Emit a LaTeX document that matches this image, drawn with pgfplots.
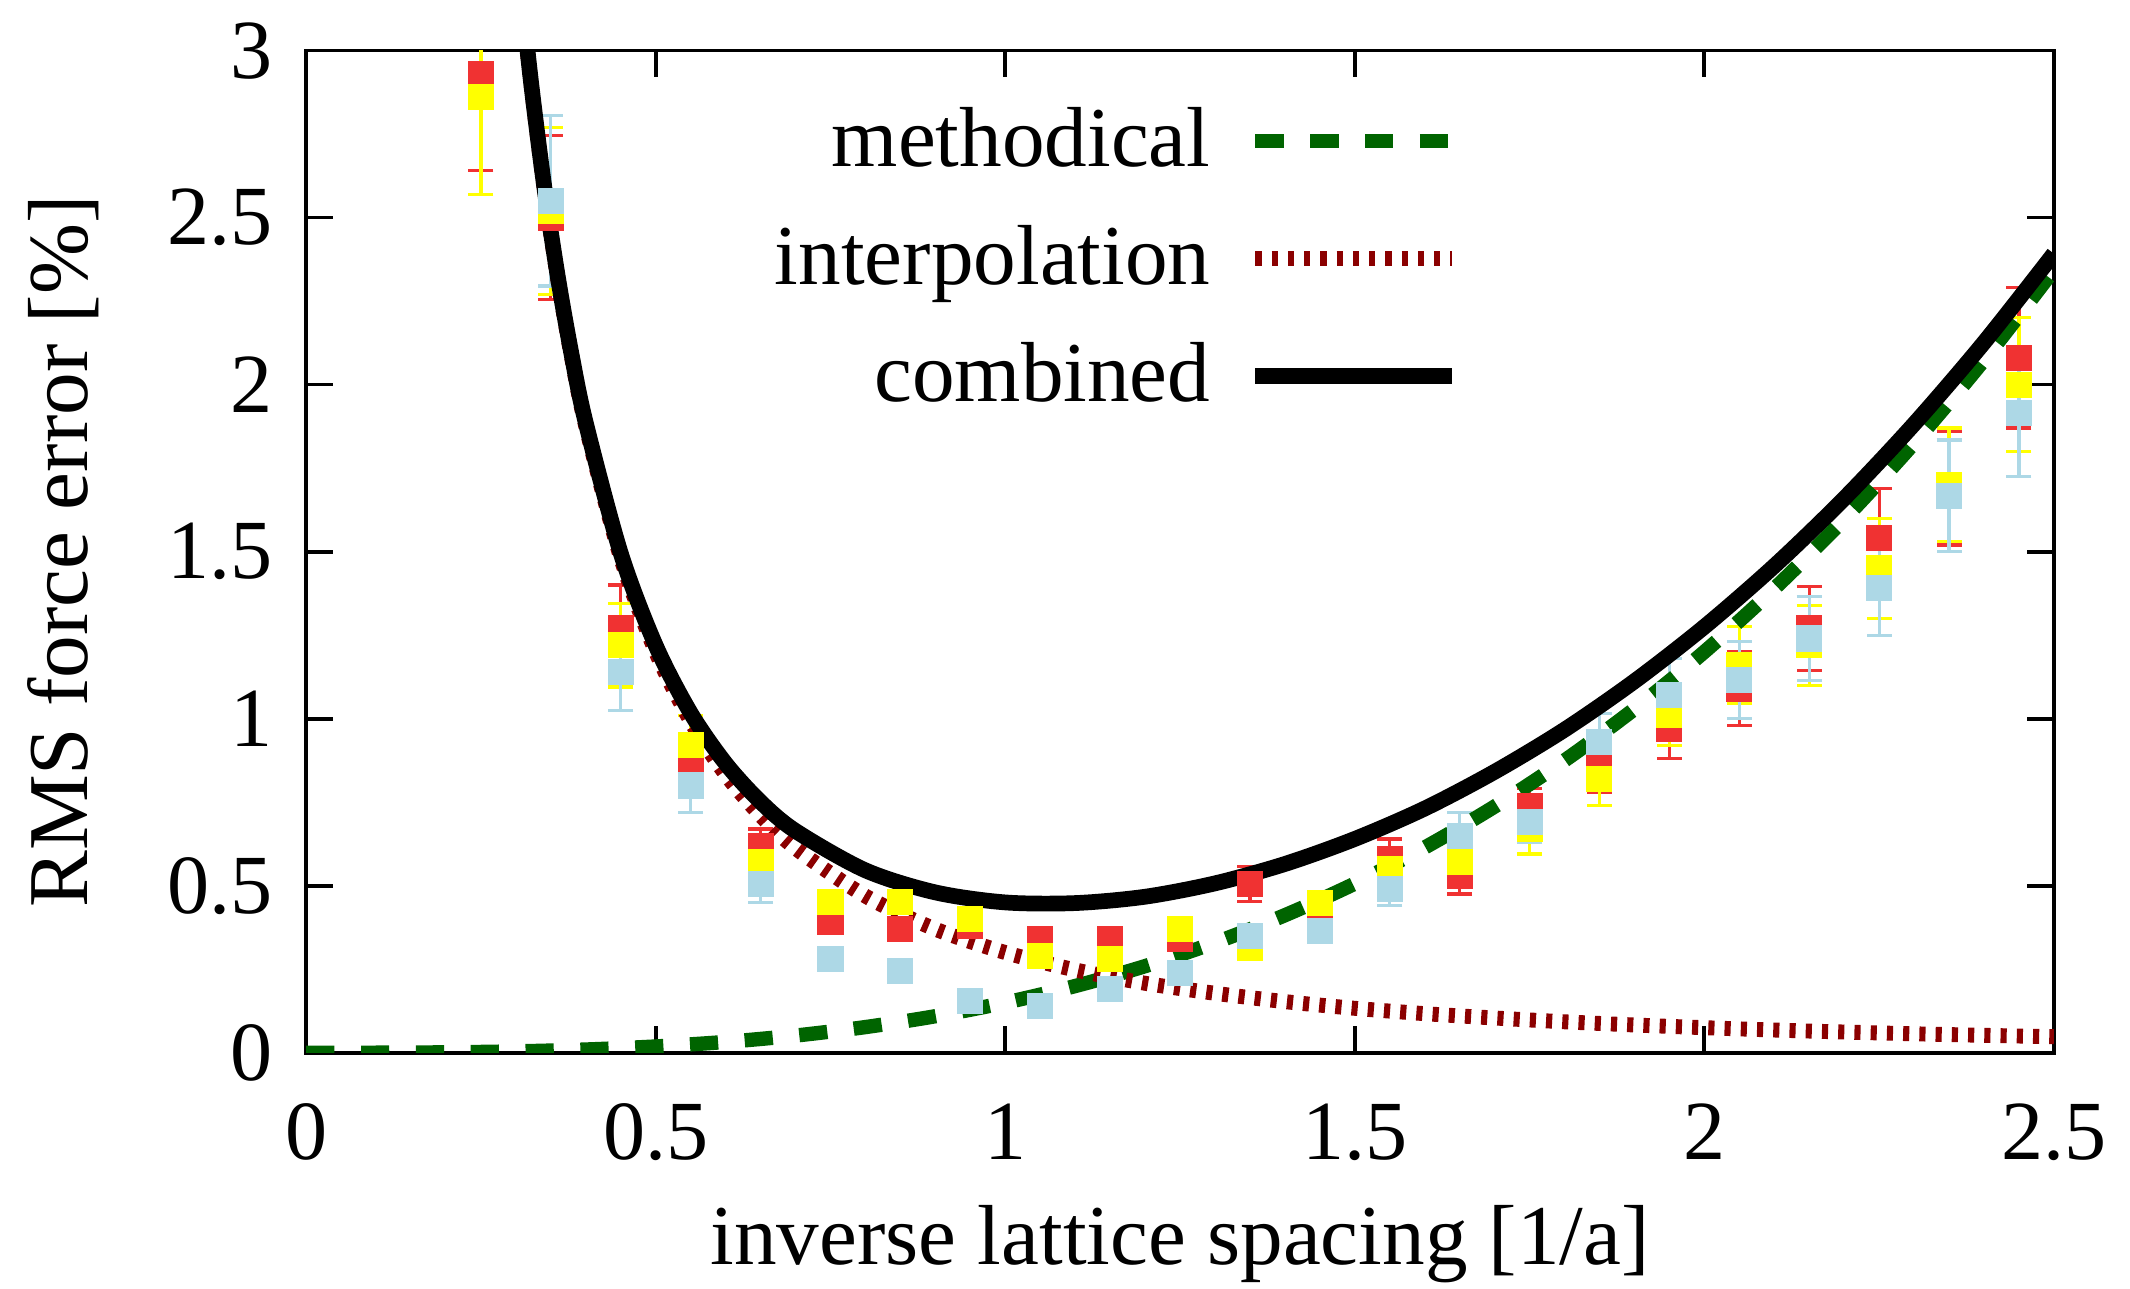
\documentclass[border=0pt]{standalone}
\usepackage{fontspec}
\setmainfont{Liberation Serif}
\usepackage{pgfplots}
\pgfplotsset{compat=1.18}

\definecolor{ptred}{RGB}{240,50,50}
\definecolor{ptyellow}{RGB}{255,255,0}
\definecolor{ptblue}{RGB}{173,216,230}
\definecolor{methgreen}{RGB}{0,100,0}
\definecolor{interpred}{RGB}{139,0,0}

\pgfplotsset{
  errpts/.style={
    color=#1, only marks, mark=square*, mark size=2.35pt, forget plot,
    mark options={draw=#1, fill=#1, line width=0pt},
    error bars/.cd, y dir=both, y explicit,
    error bar style={line width=0.6pt, #1},
    error mark options={rotate=90, mark size=2.35pt, line width=0.6pt, #1},
  },
}
\newcommand{\lblfont}{\fontsize{16}{19}\selectfont}
\newcommand{\tckfont}{\fontsize{15.8}{18}\selectfont}

\begin{document}
\begin{tikzpicture}
\begin{axis}[
  name=ax,
  scale only axis,
  width=328.2pt, height=188.2pt,
  xmin=0, xmax=2.5, ymin=0, ymax=3,
  xtick={0,0.5,1,1.5,2,2.5},
  ytick={0,0.5,1,1.5,2,2.5,3},
  tick align=inside,
  major tick length=5pt,
  axis line style={line width=0.7pt},
  every tick/.style={black, line width=0.7pt},
  /pgf/number format/assume math mode=true,
  ticklabel style={font=\tckfont},
  yticklabel style={xshift=-2.7pt},
  xticklabel style={yshift=-6pt},
  label style={font=\lblfont},
  xlabel={inverse lattice spacing [1/a]},
  ylabel={RMS force error [\%]},
  xlabel style={at={([yshift=-36pt]rel axis cs:0.5,0)}, anchor=center},
  ylabel style={at={([xshift=-45.6pt]rel axis cs:0,0.5)}, anchor=center},
  legend plot pos=right,
  legend cell align=right,
  legend style={draw=none, fill=none, at={(0.661,0.955)}, anchor=north east,
    inner sep=0pt, row sep=5.5pt, font=\lblfont},
  legend image code/.code={\path (0pt,0pt); \draw[#1] (5pt,0pt) -- (42pt,0pt);},
]

% measured data, three runs
\addplot[errpts=ptred] coordinates {
 (0.25,2.93) +- (0,0.29)  (0.35,2.50) +- (0,0.245) (0.45,1.27) +- (0,0.13)
 (0.55,0.87) +- (0,0.04)  (0.65,0.62) +- (0,0.05)  (0.75,0.39) +- (0,0.02)
 (0.85,0.37) +- (0,0.02)  (0.95,0.38) +- (0,0.02)  (1.05,0.34) +- (0,0.02)
 (1.15,0.34) +- (0,0.02)  (1.25,0.34) +- (0,0.02)  (1.35,0.505) +- (0,0.053)
 (1.45,0.41) +- (0,0.03)  (1.55,0.58) +- (0,0.06)  (1.65,0.53) +- (0,0.055)
 (1.75,0.74) +- (0,0.05)  (1.85,0.87) +- (0,0.09)  (1.95,0.97) +- (0,0.09)
 (2.05,1.09) +- (0,0.11)  (2.15,1.27) +- (0,0.125) (2.25,1.54) +- (0,0.15)
 (2.35,1.69) +- (0,0.17)  (2.45,2.08) +- (0,0.21)
};
\addplot[errpts=ptyellow] coordinates {
 (0.25,2.86) +- (0,0.29)  (0.35,2.52) +- (0,0.25)  (0.45,1.22) +- (0,0.125)
 (0.55,0.92) +- (0,0.09)  (0.65,0.57) +- (0,0.05)  (0.75,0.45) +- (0,0.03)
 (0.85,0.45) +- (0,0.03)  (0.95,0.40) +- (0,0.03)  (1.05,0.29) +- (0,0.03)
 (1.15,0.28) +- (0,0.03)  (1.25,0.37) +- (0,0.03)  (1.35,0.315) +- (0,0.03)
 (1.45,0.447) +- (0,0.03) (1.55,0.55) +- (0,0.05)  (1.65,0.57) +- (0,0.05)
 (1.75,0.67) +- (0,0.075) (1.85,0.82) +- (0,0.08)  (1.95,1.01) +- (0,0.09)
 (2.05,1.16) +- (0,0.115) (2.15,1.22) +- (0,0.12)  (2.25,1.45) +- (0,0.15)
 (2.35,1.70) +- (0,0.17)  (2.45,2.00) +- (0,0.20)
};
\addplot[errpts=ptblue] coordinates {
 (0.25,3.35) +- (0,0.30)  (0.35,2.55) +- (0,0.255) (0.45,1.14) +- (0,0.115)
 (0.55,0.80) +- (0,0.08)  (0.65,0.505) +- (0,0.055) (0.75,0.28) +- (0,0.02)
 (0.85,0.245) +- (0,0.02) (0.95,0.155) +- (0,0.02) (1.05,0.14) +- (0,0.02)
 (1.15,0.19) +- (0,0.02)  (1.25,0.24) +- (0,0.02)  (1.35,0.35) +- (0,0.03)
 (1.45,0.365) +- (0,0.03) (1.55,0.49) +- (0,0.05)  (1.65,0.65) +- (0,0.07)
 (1.75,0.69) +- (0,0.06)  (1.85,0.93) +- (0,0.085) (1.95,1.07) +- (0,0.11)
 (2.05,1.115) +- (0,0.115) (2.15,1.24) +- (0,0.125) (2.25,1.39) +- (0,0.14)
 (2.35,1.667) +- (0,0.167) (2.45,1.915) +- (0,0.19)
};

% model curves
\addplot[methgreen, line width=2.7pt, dash pattern=on 5.3pt off 5pt, smooth] coordinates {
 (0,0) (0.1,0.00015) (0.2,0.0012) (0.3,0.00405) (0.4,0.0096) (0.5,0.01875)
 (0.6,0.0324) (0.7,0.05145) (0.8,0.0768) (0.9,0.10935) (1.0,0.15)
 (1.1,0.19965) (1.2,0.2592) (1.3,0.32955) (1.4,0.4116) (1.5,0.50625)
 (1.6,0.6144) (1.7,0.73695) (1.8,0.8748) (1.9,1.02885) (2.0,1.2)
 (2.1,1.38915) (2.2,1.5972) (2.3,1.82505) (2.4,2.0736) (2.5,2.34375)
};
\addlegendentry{methodical}
\addplot[interpred, line width=2.8pt, dash pattern=on 1.15pt off 1.9pt, smooth] coordinates {
 (0.30,3.333) (0.32,2.930) (0.34,2.595) (0.36,2.315) (0.38,2.078) (0.40,1.875)
 (0.45,1.481) (0.50,1.2) (0.55,0.992) (0.60,0.833) (0.65,0.710) (0.70,0.612)
 (0.80,0.469) (0.90,0.370) (1.00,0.300) (1.10,0.248) (1.20,0.208) (1.30,0.178)
 (1.40,0.153) (1.50,0.133) (1.60,0.117) (1.70,0.104) (1.80,0.0926) (1.90,0.0831)
 (2.00,0.075) (2.10,0.068) (2.20,0.062) (2.30,0.0567) (2.40,0.0521) (2.50,0.048)
};
\addlegendentry{interpolation}
\addplot[black, line width=2.95pt, smooth] coordinates {
 (0.30,3.337) (0.32,2.935) (0.34,2.601) (0.36,2.322) (0.38,2.086) (0.40,1.885)
 (0.45,1.495) (0.50,1.219) (0.55,1.017) (0.60,0.866) (0.65,0.751) (0.70,0.664)
 (0.80,0.546) (0.90,0.480) (1.00,0.450) (1.10,0.448) (1.20,0.467) (1.30,0.507)
 (1.40,0.565) (1.50,0.640) (1.60,0.731) (1.70,0.841) (1.80,0.967) (1.90,1.112)
 (2.00,1.275) (2.10,1.457) (2.20,1.659) (2.30,1.882) (2.40,2.126) (2.50,2.392)
};
\addlegendentry{combined}
\end{axis}
\pgfresetboundingbox
\path[use as bounding box] ([xshift=-57.5pt,yshift=-44.3pt]ax.south west)
  rectangle ([xshift=14.3pt,yshift=9.5pt]ax.north east);
\end{tikzpicture}
\end{document}
